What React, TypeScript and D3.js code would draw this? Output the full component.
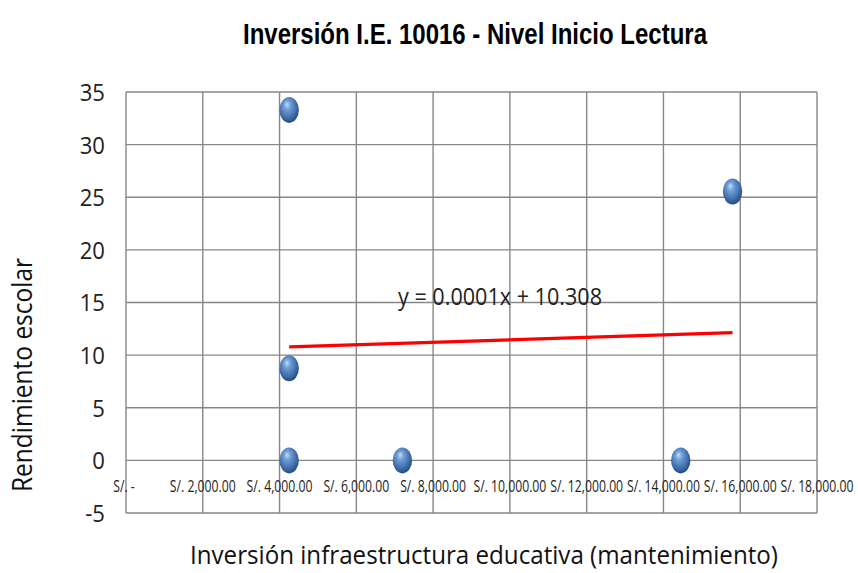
import React from "react";
import * as d3 from "d3";

const investment = [4250, 4250, 4250, 7200, 14450, 15800];
const performance = [33.3, 8.75, 0, 0, 0, 25.55];
const xTicks = [0, 2000, 4000, 6000, 8000, 10000, 12000, 14000, 16000, 18000];
const yTicks = [-5, 0, 5, 10, 15, 20, 25, 30, 35];
const title = "Inversión I.E. 10016 - Nivel Inicio Lectura";
const xTitle = "Inversión infraestructura educativa (mantenimiento)";
const yTitle = "Rendimiento escolar";
const equation = "y = 0.0001x + 10.308";

const W = 858;
const H = 573;
const M = { left: 126, right: 817, top: 92, bottom: 513 };

const fmtMoney = (v: number) =>
  v === 0 ? "S/. -" : "S/. " + d3.format(",.2f")(v);

export default function App() {
  const x = d3.scaleLinear().domain([0, 18000]).range([M.left, M.right]);
  const y = d3.scaleLinear().domain([-5, 35]).range([M.bottom, M.top]);

  const mx = d3.mean(investment) as number;
  const my = d3.mean(performance) as number;
  let sxy = 0;
  let sxx = 0;
  investment.forEach((xi, i) => {
    sxy += (xi - mx) * (performance[i] - my);
    sxx += (xi - mx) * (xi - mx);
  });
  const slope = sxy / sxx;
  const intercept = my - slope * mx;
  const x0 = d3.min(investment) as number;
  const x1 = d3.max(investment) as number;
  const trend = d3.line<number>()
    .x((d) => x(d))
    .y((d) => y(slope * d + intercept))([x0, x1]);

  const grid = "#878787";
  return (
    <svg
      width={W}
      height={H}
      style={{ position: "absolute", left: 0, top: 0, background: "#fff" }}
    >
      <defs>
        <radialGradient id="ball" cx="45%" cy="40%" r="60%" fx="38%" fy="28%">
          <stop offset="0%" stopColor="#c4dbf6" />
          <stop offset="30%" stopColor="#6f9dd6" />
          <stop offset="75%" stopColor="#3d6ca8" />
          <stop offset="100%" stopColor="#254b7c" />
        </radialGradient>
      </defs>
      <rect x={0} y={0} width={W} height={H} fill="#fff" />
      <text
        x={475}
        y={44}
        textAnchor="middle"
        fontFamily="'Liberation Sans', Arial, sans-serif"
        fontWeight="bold"
        fontSize={30}
        textLength={464}
        lengthAdjust="spacingAndGlyphs"
        fill="#000"
      >
        {title}
      </text>
      {yTicks.map((t) => (
        <line
          key={"h" + t}
          x1={M.left}
          x2={M.right}
          y1={y(t)}
          y2={y(t)}
          stroke={grid}
          strokeWidth={1.4}
        />
      ))}
      {xTicks.map((t) => (
        <line
          key={"v" + t}
          x1={x(t)}
          x2={x(t)}
          y1={M.top}
          y2={M.bottom}
          stroke={grid}
          strokeWidth={1.4}
        />
      ))}
      {yTicks.map((t) => (
        <text
          key={"yl" + t}
          x={105}
          y={y(t) + 9}
          textAnchor="end"
          fontFamily="'Open Sans', sans-serif"
          fontSize={24}
          fill="#222"
          transform={`translate(105,0) scale(0.92,1) translate(-105,0)`}
        >
          {t}
        </text>
      ))}
      {xTicks.map((t) => (
        <text
          key={"xl" + t}
          transform={`translate(${x(t) - (t === 0 ? 2 : 0)},${y(0) + 32}) scale(0.72,1)`}
          textAnchor="middle"
          fontFamily="'Open Sans', sans-serif"
          fontSize={17}
          fill="#222"
        >
          {fmtMoney(t)}
        </text>
      ))}
      <path d={trend || ""} fill="none" stroke="#ff0000" strokeWidth={3.2} />
      <text
        x={500}
        y={305}
        textAnchor="middle"
        fontFamily="'Open Sans', sans-serif"
        fontSize={24}
        textLength={204}
        lengthAdjust="spacingAndGlyphs"
        fill="#222"
      >
        {equation}
      </text>
      {investment.map((xi, i) => (
        <ellipse
          key={"p" + i}
          cx={x(xi)}
          cy={y(performance[i])}
          rx={9.7}
          ry={13}
          fill="url(#ball)"
        />
      ))}
      <text
        x={484}
        y={564}
        textAnchor="middle"
        fontFamily="'Open Sans', sans-serif"
        fontSize={26}
        textLength={588}
        lengthAdjust="spacingAndGlyphs"
        fill="#111"
      >
        {xTitle}
      </text>
      <text
        transform={`translate(32,375) rotate(-90)`}
        textAnchor="middle"
        fontFamily="'Open Sans', sans-serif"
        fontSize={27}
        textLength={234}
        lengthAdjust="spacingAndGlyphs"
        fill="#111"
      >
        {yTitle}
      </text>
    </svg>
  );
}
